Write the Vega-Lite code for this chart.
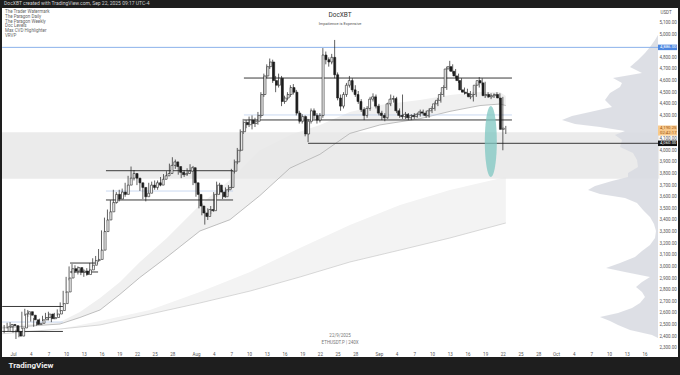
{
"$schema": "https://vega.github.io/schema/vega-lite/v6.json",
"width": 676, "height": 349, "autosize": "none",
"padding": {"left": 2, "right": 2, "top": 8, "bottom": 18},
"background": "#1e1e1e",
"title": {"text": "DocXBT created with TradingView.com, Sep 22, 2025 09:17 UTC-4", "anchor": "start", "frame": "group", "fontSize": 5, "fontWeight": "normal", "color": "#cfcfcf", "offset": 0, "baseline": "middle", "dx": 2, "font": "Roboto"},
"config": {"view": {"fill": "#ffffff", "stroke": null}, "font": "Roboto",
 "axis": {"grid": false, "ticks": false, "domain": false, "labelFontSize": 4.5, "labelColor": "#555555", "labelOverlap": false, "labelFlush": false, "labelPadding": 2}},
"datasets": {
"zone": [{"lo": 3755, "hi": 4155}],
"candles": [
{"t":"2025-06-29T12:00Z","o":2440,"h":2495,"l":2425,"c":2480},
{"t":"2025-06-30T00:00Z","o":2480,"h":2515,"l":2465,"c":2500},
{"t":"2025-06-30T12:00Z","o":2500,"h":2520,"l":2470,"c":2490},
{"t":"2025-07-01T00:00Z","o":2490,"h":2500,"l":2430,"c":2440},
{"t":"2025-07-01T12:00Z","o":2440,"h":2455,"l":2375,"c":2400},
{"t":"2025-07-02T00:00Z","o":2400,"h":2485,"l":2390,"c":2470},
{"t":"2025-07-02T12:00Z","o":2470,"h":2610,"l":2460,"c":2590},
{"t":"2025-07-03T00:00Z","o":2590,"h":2635,"l":2575,"c":2610},
{"t":"2025-07-03T12:00Z","o":2610,"h":2625,"l":2565,"c":2580},
{"t":"2025-07-04T00:00Z","o":2580,"h":2595,"l":2525,"c":2540},
{"t":"2025-07-04T12:00Z","o":2540,"h":2555,"l":2480,"c":2500},
{"t":"2025-07-05T00:00Z","o":2500,"h":2525,"l":2490,"c":2510},
{"t":"2025-07-05T12:00Z","o":2510,"h":2550,"l":2500,"c":2540},
{"t":"2025-07-06T00:00Z","o":2540,"h":2575,"l":2530,"c":2560},
{"t":"2025-07-06T12:00Z","o":2560,"h":2600,"l":2545,"c":2590},
{"t":"2025-07-07T00:00Z","o":2590,"h":2610,"l":2535,"c":2550},
{"t":"2025-07-07T12:00Z","o":2550,"h":2575,"l":2520,"c":2560},
{"t":"2025-07-08T00:00Z","o":2560,"h":2600,"l":2545,"c":2590},
{"t":"2025-07-08T12:00Z","o":2590,"h":2630,"l":2575,"c":2620},
{"t":"2025-07-09T00:00Z","o":2620,"h":2690,"l":2610,"c":2680},
{"t":"2025-07-09T12:00Z","o":2680,"h":2790,"l":2670,"c":2780},
{"t":"2025-07-10T00:00Z","o":2780,"h":2910,"l":2770,"c":2900},
{"t":"2025-07-10T12:00Z","o":2900,"h":3000,"l":2880,"c":2980},
{"t":"2025-07-11T00:00Z","o":2980,"h":3020,"l":2940,"c":2960},
{"t":"2025-07-11T12:00Z","o":2960,"h":3010,"l":2945,"c":2990},
{"t":"2025-07-12T00:00Z","o":2990,"h":3000,"l":2930,"c":2950},
{"t":"2025-07-12T12:00Z","o":2950,"h":2980,"l":2925,"c":2960},
{"t":"2025-07-13T00:00Z","o":2960,"h":2975,"l":2910,"c":2930},
{"t":"2025-07-13T12:00Z","o":2930,"h":2985,"l":2920,"c":2970},
{"t":"2025-07-14T00:00Z","o":2970,"h":3030,"l":2955,"c":3010},
{"t":"2025-07-14T12:00Z","o":3010,"h":3070,"l":2990,"c":3050},
{"t":"2025-07-15T00:00Z","o":3050,"h":3090,"l":3020,"c":3060},
{"t":"2025-07-15T12:00Z","o":3060,"h":3150,"l":3040,"c":3140},
{"t":"2025-07-16T00:00Z","o":3140,"h":3310,"l":3130,"c":3300},
{"t":"2025-07-16T12:00Z","o":3300,"h":3420,"l":3280,"c":3400},
{"t":"2025-07-17T00:00Z","o":3400,"h":3490,"l":3380,"c":3470},
{"t":"2025-07-17T12:00Z","o":3470,"h":3570,"l":3450,"c":3550},
{"t":"2025-07-18T00:00Z","o":3550,"h":3660,"l":3530,"c":3620},
{"t":"2025-07-18T12:00Z","o":3620,"h":3640,"l":3540,"c":3580},
{"t":"2025-07-19T00:00Z","o":3580,"h":3660,"l":3560,"c":3640},
{"t":"2025-07-19T12:00Z","o":3640,"h":3670,"l":3590,"c":3620},
{"t":"2025-07-20T00:00Z","o":3620,"h":3720,"l":3600,"c":3700},
{"t":"2025-07-20T12:00Z","o":3700,"h":3780,"l":3680,"c":3760},
{"t":"2025-07-21T00:00Z","o":3760,"h":3860,"l":3740,"c":3800},
{"t":"2025-07-21T12:00Z","o":3800,"h":3830,"l":3740,"c":3760},
{"t":"2025-07-22T00:00Z","o":3760,"h":3780,"l":3700,"c":3720},
{"t":"2025-07-22T12:00Z","o":3720,"h":3750,"l":3650,"c":3680},
{"t":"2025-07-23T00:00Z","o":3680,"h":3700,"l":3580,"c":3600},
{"t":"2025-07-23T12:00Z","o":3600,"h":3650,"l":3560,"c":3630},
{"t":"2025-07-24T00:00Z","o":3630,"h":3720,"l":3610,"c":3700},
{"t":"2025-07-24T12:00Z","o":3700,"h":3730,"l":3650,"c":3680},
{"t":"2025-07-25T00:00Z","o":3680,"h":3740,"l":3660,"c":3720},
{"t":"2025-07-25T12:00Z","o":3720,"h":3740,"l":3660,"c":3700},
{"t":"2025-07-26T00:00Z","o":3700,"h":3770,"l":3690,"c":3750},
{"t":"2025-07-26T12:00Z","o":3750,"h":3795,"l":3735,"c":3780},
{"t":"2025-07-27T00:00Z","o":3780,"h":3820,"l":3765,"c":3800},
{"t":"2025-07-27T12:00Z","o":3800,"h":3885,"l":3790,"c":3870},
{"t":"2025-07-28T00:00Z","o":3870,"h":3940,"l":3850,"c":3900},
{"t":"2025-07-28T12:00Z","o":3900,"h":3920,"l":3840,"c":3860},
{"t":"2025-07-29T00:00Z","o":3860,"h":3880,"l":3790,"c":3810},
{"t":"2025-07-29T12:00Z","o":3810,"h":3840,"l":3760,"c":3790},
{"t":"2025-07-30T00:00Z","o":3790,"h":3830,"l":3770,"c":3800},
{"t":"2025-07-30T12:00Z","o":3800,"h":3845,"l":3780,"c":3820},
{"t":"2025-07-31T00:00Z","o":3820,"h":3880,"l":3800,"c":3850},
{"t":"2025-07-31T12:00Z","o":3850,"h":3865,"l":3700,"c":3720},
{"t":"2025-08-01T00:00Z","o":3720,"h":3740,"l":3600,"c":3620},
{"t":"2025-08-01T12:00Z","o":3620,"h":3640,"l":3500,"c":3520},
{"t":"2025-08-02T00:00Z","o":3520,"h":3540,"l":3440,"c":3460},
{"t":"2025-08-02T12:00Z","o":3460,"h":3480,"l":3360,"c":3430},
{"t":"2025-08-03T00:00Z","o":3430,"h":3500,"l":3400,"c":3490},
{"t":"2025-08-03T12:00Z","o":3490,"h":3520,"l":3450,"c":3480},
{"t":"2025-08-04T00:00Z","o":3480,"h":3640,"l":3470,"c":3620},
{"t":"2025-08-04T12:00Z","o":3620,"h":3730,"l":3600,"c":3700},
{"t":"2025-08-05T00:00Z","o":3700,"h":3720,"l":3620,"c":3640},
{"t":"2025-08-05T12:00Z","o":3640,"h":3660,"l":3580,"c":3600},
{"t":"2025-08-06T00:00Z","o":3600,"h":3680,"l":3590,"c":3660},
{"t":"2025-08-06T12:00Z","o":3660,"h":3700,"l":3640,"c":3680},
{"t":"2025-08-07T00:00Z","o":3680,"h":3840,"l":3670,"c":3820},
{"t":"2025-08-07T12:00Z","o":3820,"h":3920,"l":3800,"c":3900},
{"t":"2025-08-08T00:00Z","o":3900,"h":4020,"l":3880,"c":4000},
{"t":"2025-08-08T12:00Z","o":4000,"h":4180,"l":3990,"c":4160},
{"t":"2025-08-09T00:00Z","o":4160,"h":4270,"l":4140,"c":4240},
{"t":"2025-08-09T12:00Z","o":4240,"h":4260,"l":4190,"c":4220},
{"t":"2025-08-10T00:00Z","o":4220,"h":4290,"l":4200,"c":4260},
{"t":"2025-08-10T12:00Z","o":4260,"h":4300,"l":4180,"c":4230},
{"t":"2025-08-11T00:00Z","o":4230,"h":4280,"l":4200,"c":4250},
{"t":"2025-08-11T12:00Z","o":4250,"h":4330,"l":4220,"c":4300},
{"t":"2025-08-12T00:00Z","o":4300,"h":4500,"l":4280,"c":4480},
{"t":"2025-08-12T12:00Z","o":4480,"h":4660,"l":4460,"c":4640},
{"t":"2025-08-13T00:00Z","o":4640,"h":4740,"l":4620,"c":4720},
{"t":"2025-08-13T12:00Z","o":4720,"h":4790,"l":4700,"c":4760},
{"t":"2025-08-14T00:00Z","o":4760,"h":4780,"l":4580,"c":4600},
{"t":"2025-08-14T12:00Z","o":4600,"h":4640,"l":4500,"c":4560},
{"t":"2025-08-15T00:00Z","o":4560,"h":4660,"l":4540,"c":4620},
{"t":"2025-08-15T12:00Z","o":4620,"h":4640,"l":4380,"c":4420},
{"t":"2025-08-16T00:00Z","o":4420,"h":4470,"l":4400,"c":4450},
{"t":"2025-08-16T12:00Z","o":4450,"h":4500,"l":4430,"c":4480},
{"t":"2025-08-17T00:00Z","o":4480,"h":4560,"l":4460,"c":4540},
{"t":"2025-08-17T12:00Z","o":4540,"h":4570,"l":4480,"c":4500},
{"t":"2025-08-18T00:00Z","o":4500,"h":4520,"l":4300,"c":4320},
{"t":"2025-08-18T12:00Z","o":4320,"h":4340,"l":4230,"c":4250},
{"t":"2025-08-19T00:00Z","o":4250,"h":4310,"l":4230,"c":4290},
{"t":"2025-08-19T12:00Z","o":4290,"h":4300,"l":4120,"c":4140},
{"t":"2025-08-20T00:00Z","o":4140,"h":4270,"l":4070,"c":4250},
{"t":"2025-08-20T12:00Z","o":4250,"h":4360,"l":4230,"c":4340},
{"t":"2025-08-21T00:00Z","o":4340,"h":4360,"l":4270,"c":4300},
{"t":"2025-08-21T12:00Z","o":4300,"h":4320,"l":4230,"c":4260},
{"t":"2025-08-22T00:00Z","o":4260,"h":4320,"l":4240,"c":4300},
{"t":"2025-08-22T12:00Z","o":4300,"h":4880,"l":4280,"c":4820},
{"t":"2025-08-23T00:00Z","o":4820,"h":4850,"l":4740,"c":4780},
{"t":"2025-08-23T12:00Z","o":4780,"h":4800,"l":4720,"c":4760},
{"t":"2025-08-24T00:00Z","o":4760,"h":4830,"l":4740,"c":4800},
{"t":"2025-08-24T12:00Z","o":4800,"h":4950,"l":4620,"c":4650},
{"t":"2025-08-25T00:00Z","o":4650,"h":4670,"l":4430,"c":4450},
{"t":"2025-08-25T12:00Z","o":4450,"h":4480,"l":4340,"c":4380},
{"t":"2025-08-26T00:00Z","o":4380,"h":4500,"l":4360,"c":4480},
{"t":"2025-08-26T12:00Z","o":4480,"h":4580,"l":4460,"c":4560},
{"t":"2025-08-27T00:00Z","o":4560,"h":4640,"l":4540,"c":4600},
{"t":"2025-08-27T12:00Z","o":4600,"h":4620,"l":4500,"c":4520},
{"t":"2025-08-28T00:00Z","o":4520,"h":4560,"l":4460,"c":4480},
{"t":"2025-08-28T12:00Z","o":4480,"h":4510,"l":4400,"c":4420},
{"t":"2025-08-29T00:00Z","o":4420,"h":4440,"l":4330,"c":4350},
{"t":"2025-08-29T12:00Z","o":4350,"h":4370,"l":4260,"c":4300},
{"t":"2025-08-30T00:00Z","o":4300,"h":4380,"l":4280,"c":4360},
{"t":"2025-08-30T12:00Z","o":4360,"h":4460,"l":4340,"c":4440},
{"t":"2025-08-31T00:00Z","o":4440,"h":4490,"l":4420,"c":4460},
{"t":"2025-08-31T12:00Z","o":4460,"h":4480,"l":4360,"c":4380},
{"t":"2025-09-01T00:00Z","o":4380,"h":4400,"l":4300,"c":4320},
{"t":"2025-09-01T12:00Z","o":4320,"h":4340,"l":4260,"c":4300},
{"t":"2025-09-02T00:00Z","o":4300,"h":4320,"l":4250,"c":4280},
{"t":"2025-09-02T12:00Z","o":4280,"h":4410,"l":4270,"c":4400},
{"t":"2025-09-03T00:00Z","o":4400,"h":4480,"l":4380,"c":4440},
{"t":"2025-09-03T12:00Z","o":4440,"h":4470,"l":4410,"c":4445},
{"t":"2025-09-04T00:00Z","o":4445,"h":4460,"l":4320,"c":4340},
{"t":"2025-09-04T12:00Z","o":4340,"h":4360,"l":4280,"c":4300},
{"t":"2025-09-05T00:00Z","o":4300,"h":4480,"l":4270,"c":4290},
{"t":"2025-09-05T12:00Z","o":4290,"h":4330,"l":4270,"c":4310},
{"t":"2025-09-06T00:00Z","o":4310,"h":4320,"l":4260,"c":4280},
{"t":"2025-09-06T12:00Z","o":4280,"h":4310,"l":4260,"c":4300},
{"t":"2025-09-07T00:00Z","o":4300,"h":4320,"l":4270,"c":4290},
{"t":"2025-09-07T12:00Z","o":4290,"h":4320,"l":4280,"c":4310},
{"t":"2025-09-08T00:00Z","o":4310,"h":4350,"l":4290,"c":4330},
{"t":"2025-09-08T12:00Z","o":4330,"h":4350,"l":4300,"c":4320},
{"t":"2025-09-09T00:00Z","o":4320,"h":4340,"l":4280,"c":4300},
{"t":"2025-09-09T12:00Z","o":4300,"h":4360,"l":4280,"c":4340},
{"t":"2025-09-10T00:00Z","o":4340,"h":4380,"l":4320,"c":4360},
{"t":"2025-09-10T12:00Z","o":4360,"h":4420,"l":4340,"c":4400},
{"t":"2025-09-11T00:00Z","o":4400,"h":4450,"l":4380,"c":4430},
{"t":"2025-09-11T12:00Z","o":4430,"h":4500,"l":4410,"c":4480},
{"t":"2025-09-12T00:00Z","o":4480,"h":4560,"l":4460,"c":4540},
{"t":"2025-09-12T12:00Z","o":4540,"h":4720,"l":4520,"c":4700},
{"t":"2025-09-13T00:00Z","o":4700,"h":4770,"l":4680,"c":4720},
{"t":"2025-09-13T12:00Z","o":4720,"h":4740,"l":4660,"c":4680},
{"t":"2025-09-14T00:00Z","o":4680,"h":4700,"l":4620,"c":4640},
{"t":"2025-09-14T12:00Z","o":4640,"h":4660,"l":4580,"c":4600},
{"t":"2025-09-15T00:00Z","o":4600,"h":4620,"l":4500,"c":4520},
{"t":"2025-09-15T12:00Z","o":4520,"h":4540,"l":4480,"c":4500},
{"t":"2025-09-16T00:00Z","o":4500,"h":4530,"l":4470,"c":4490},
{"t":"2025-09-16T12:00Z","o":4490,"h":4510,"l":4440,"c":4460},
{"t":"2025-09-17T00:00Z","o":4460,"h":4500,"l":4420,"c":4480},
{"t":"2025-09-17T12:00Z","o":4480,"h":4580,"l":4460,"c":4560},
{"t":"2025-09-18T00:00Z","o":4560,"h":4630,"l":4540,"c":4600},
{"t":"2025-09-18T12:00Z","o":4600,"h":4620,"l":4560,"c":4580},
{"t":"2025-09-19T00:00Z","o":4580,"h":4590,"l":4450,"c":4470},
{"t":"2025-09-19T12:00Z","o":4470,"h":4500,"l":4450,"c":4480},
{"t":"2025-09-20T00:00Z","o":4480,"h":4490,"l":4440,"c":4460},
{"t":"2025-09-20T12:00Z","o":4460,"h":4490,"l":4450,"c":4470},
{"t":"2025-09-21T00:00Z","o":4470,"h":4500,"l":4460,"c":4480},
{"t":"2025-09-21T12:00Z","o":4480,"h":4490,"l":4430,"c":4450},
{"t":"2025-09-22T00:00Z","o":4450,"h":4460,"l":4000,"c":4180},
{"t":"2025-09-22T12:00Z","o":4180,"h":4210,"l":4140,"c":4190}
],
"ribbonA": [
{"t":"2025-06-29T04:00Z","hi":2487,"lo":2470},
{"t":"2025-07-08T23:00Z","hi":2522,"lo":2504},
{"t":"2025-07-12T08:00Z","hi":2608,"lo":2560},
{"t":"2025-07-15T18:00Z","hi":2728,"lo":2625},
{"t":"2025-07-19T03:00Z","hi":2866,"lo":2760},
{"t":"2025-07-22T12:00Z","hi":3038,"lo":2905},
{"t":"2025-07-27T02:00Z","hi":3245,"lo":3081},
{"t":"2025-08-01T16:00Z","hi":3529,"lo":3305},
{"t":"2025-08-06T18:00Z","hi":3744,"lo":3402},
{"t":"2025-08-11T20:00Z","hi":4002,"lo":3610},
{"t":"2025-08-16T22:00Z","hi":4131,"lo":3846},
{"t":"2025-08-22T00:00Z","hi":4218,"lo":3965},
{"t":"2025-08-27T02:00Z","hi":4330,"lo":4145},
{"t":"2025-09-01T04:00Z","hi":4390,"lo":4218},
{"t":"2025-09-07T23:00Z","hi":4433,"lo":4272},
{"t":"2025-09-13T01:00Z","hi":4476,"lo":4335},
{"t":"2025-09-18T03:00Z","hi":4502,"lo":4385},
{"t":"2025-09-21T12:00Z","hi":4502,"lo":4398},
{"t":"2025-09-22T12:00Z","hi":4467,"lo":4385}
],
"ribbonB": [
{"t":"2025-06-29T04:00Z","hi":2420,"lo":2420},
{"t":"2025-07-08T23:00Z","hi":2461,"lo":2461},
{"t":"2025-07-15T18:00Z","hi":2530,"lo":2496},
{"t":"2025-07-24T05:00Z","hi":2625,"lo":2590},
{"t":"2025-08-01T16:00Z","hi":2780,"lo":2685},
{"t":"2025-08-10T04:00Z","hi":2952,"lo":2788},
{"t":"2025-08-18T15:00Z","hi":3159,"lo":2909},
{"t":"2025-08-27T02:00Z","hi":3357,"lo":3038},
{"t":"2025-09-04T14:00Z","hi":3529,"lo":3141},
{"t":"2025-09-13T01:00Z","hi":3658,"lo":3245},
{"t":"2025-09-22T12:00Z","hi":3770,"lo":3374}
],
"profile": [
{"p":2384,"v":0},{"p":2410,"v":6},{"p":2453,"v":28},{"p":2496,"v":40},{"p":2530,"v":48},{"p":2564,"v":58},{"p":2599,"v":40},{"p":2642,"v":26},{"p":2685,"v":18},{"p":2737,"v":13},{"p":2780,"v":16},{"p":2823,"v":22},{"p":2866,"v":16},{"p":2909,"v":8},{"p":2952,"v":33},{"p":2986,"v":52},{"p":3029,"v":38},{"p":3081,"v":23},{"p":3133,"v":16},{"p":3184,"v":8},{"p":3245,"v":3},{"p":3305,"v":2},{"p":3365,"v":4},{"p":3425,"v":8},{"p":3486,"v":15},{"p":3546,"v":21},{"p":3589,"v":33},{"p":3623,"v":58},{"p":3658,"v":70},{"p":3692,"v":63},{"p":3735,"v":46},{"p":3770,"v":30},{"p":3804,"v":30},{"p":3856,"v":20},{"p":3916,"v":21},{"p":3976,"v":25},{"p":4028,"v":38},{"p":4088,"v":36},{"p":4131,"v":43},{"p":4166,"v":33},{"p":4200,"v":58},{"p":4226,"v":83},{"p":4261,"v":96},{"p":4295,"v":86},{"p":4329,"v":68},{"p":4372,"v":46},{"p":4433,"v":53},{"p":4493,"v":48},{"p":4545,"v":38},{"p":4579,"v":36},{"p":4622,"v":45},{"p":4665,"v":16},{"p":4717,"v":28},{"p":4777,"v":20},{"p":4837,"v":13},{"p":4889,"v":8},{"p":4949,"v":3},{"p":4992,"v":0}
],
"levels": [
{"p":2655,"from":"2025-06-29T04:00Z","to":"2025-07-09T11:00Z"},
{"p":2440,"from":"2025-06-29T04:00Z","to":"2025-07-09T11:00Z"},
{"p":3029,"from":"2025-07-10T16:00Z","to":"2025-07-15T10:00Z"},
{"p":2952,"from":"2025-07-10T16:00Z","to":"2025-07-15T10:00Z"},
{"p":3824,"from":"2025-07-16T18:00Z","to":"2025-08-07T07:00Z"},
{"p":3572,"from":"2025-07-16T18:00Z","to":"2025-08-07T07:00Z"},
{"p":4622,"from":"2025-08-09T03:00Z","to":"2025-09-23T13:00Z"},
{"p":4261,"from":"2025-08-09T03:00Z","to":"2025-09-23T13:00Z"},
{"p":4060,"from":"2025-08-20T00:00Z","to":"2025-10-18T12:00Z"}
],
"bluelevels": [
{"p":2521,"from":"2025-06-29T04:00Z","to":"2025-07-09T11:00Z"},
{"p":3649,"from":"2025-07-16T18:00Z","to":"2025-08-07T07:00Z"},
{"p":4304,"from":"2025-08-09T03:00Z","to":"2025-09-23T13:00Z"}
],
"ath": [{"p":4886,"from":"2025-06-29T04:00Z","to":"2025-10-18T12:00Z"}]
},
"resolve": {"scale": {"x": "independent"}, "axis": {"y": "independent"}},
"layer": [
 {"data": {"name": "ribbonB"}, "mark": {"type": "area", "color": "#f3f3f3"},
  "encoding": {"x": {"field": "t", "type": "temporal", "scale": {"domain": [1751166968000, 1761063224000], "nice": false},
    "axis": {"orient": "bottom", "offset": -8, "labelOverlap": false, "labelFlush": false,
     "values": [1751328000000,1751587200000,1751846400000,1752105600000,1752364800000,1752624000000,1752883200000,1753142400000,1753401600000,1753660800000,1754006400000,1754265600000,1754524800000,1754784000000,1755043200000,1755302400000,1755561600000,1755820800000,1756080000000,1756339200000,1756684800000,1756944000000,1757203200000,1757462400000,1757721600000,1757980800000,1758240000000,1758499200000,1758758400000,1759017600000,1759276800000,1759536000000,1759795200000,1760054400000,1760313600000,1760572800000],
     "labelExpr": "utcdate(datum.value) == 1 ? utcFormat(datum.value, '%b') : utcFormat(datum.value, '%-d')",
     "title": "TradingView", "titleFontSize": 8, "titleFontWeight": "bold", "titleColor": "#eeeeee", "titleAnchor": "start", "titleAlign": "left", "titleX": 6, "titlePadding": 6}},
   "y": {"field": "hi", "type": "quantitative", "scale": {"domain": [2220, 5225], "nice": false, "zero": false},
    "axis": {"orient": "right", "offset": -21, "format": ",.2f", "labelOverlap": false, "labelFontSize": 4.5, "labelColor": "#555555", "labelPadding": 2, "labelBaseline": "middle",
     "values": [2300,2400,2500,2600,2700,2800,2900,3000,3100,3200,3300,3400,3500,3600,3700,3800,3900,4000,4100,4300,4400,4500,4600,4700,4800,5000,5100],
     "title": "USDT", "titleAngle": 0, "titleAlign": "left", "titleBaseline": "middle", "titleX": 3, "titleY": 4, "titleFontSize": 4.5, "titleFontWeight": "normal", "titleColor": "#555555"}},
   "y2": {"field": "lo"}}},
 {"data": {"name": "ribbonA"}, "mark": {"type": "area", "color": "#f0f0f0"},
  "encoding": {"x": {"field": "t", "type": "temporal", "scale": {"domain": [1751166968000, 1761063224000], "nice": false}, "axis": null},
   "y": {"field": "hi", "type": "quantitative", "scale": {"domain": [2220, 5225], "nice": false, "zero": false}, "axis": null}, "y2": {"field": "lo"}}},
 {"data": {"name": "zone"}, "mark": {"type": "rect", "color": "#e8e8e8", "opacity": 0.85},
  "encoding": {"x": {"datum": {"year": 2025, "month": 6, "date": 29, "hours": 3, "minutes": 16, "utc": true}, "type": "temporal", "scale": {"domain": [1751166968000, 1761063224000], "nice": false}, "axis": null},
   "x2": {"datum": {"year": 2025, "month": 10, "date": 18, "hours": 12, "utc": true}},
   "y": {"field": "lo", "type": "quantitative", "scale": {"domain": [2220, 5225], "nice": false, "zero": false}, "axis": null}, "y2": {"field": "hi"}}},
 {"data": {"name": "profile"}, "mark": {"type": "area", "orient": "horizontal", "color": "#d9dce2", "opacity": 0.9},
  "encoding": {"y": {"field": "p", "type": "quantitative", "scale": {"domain": [2220, 5225], "nice": false, "zero": false}, "axis": null},
   "x": {"field": "v", "type": "quantitative", "scale": {"domain": [-20, 656], "reverse": true, "nice": false, "zero": false}, "axis": null},
   "x2": {"datum": 0}}},
 {"data": {"name": "ribbonA"}, "mark": {"type": "line", "color": "#b0b0b0", "strokeWidth": 0.8},
  "encoding": {"x": {"field": "t", "type": "temporal", "scale": {"domain": [1751166968000, 1761063224000], "nice": false}, "axis": null},
   "y": {"field": "lo", "type": "quantitative", "axis": null}}},
 {"data": {"name": "ribbonB"}, "mark": {"type": "line", "color": "#c8c8c8", "strokeWidth": 0.7},
  "encoding": {"x": {"field": "t", "type": "temporal", "scale": {"domain": [1751166968000, 1761063224000], "nice": false}, "axis": null},
   "y": {"field": "lo", "type": "quantitative", "axis": null}}},
 {"data": {"name": "bluelevels"}, "mark": {"type": "rule", "color": "#bdd1ee", "strokeWidth": 0.8},
  "encoding": {"x": {"field": "from", "type": "temporal", "scale": {"domain": [1751166968000, 1761063224000], "nice": false}, "axis": null}, "x2": {"field": "to"}, "y": {"field": "p", "type": "quantitative", "axis": null}}},
 {"data": {"name": "ath"}, "mark": {"type": "rule", "color": "#8cb2ea", "strokeWidth": 1},
  "encoding": {"x": {"field": "from", "type": "temporal", "scale": {"domain": [1751166968000, 1761063224000], "nice": false}, "axis": null}, "x2": {"field": "to"}, "y": {"field": "p", "type": "quantitative", "axis": null}}},
 {"data": {"name": "levels"}, "mark": {"type": "rule", "color": "#3a3a3a", "strokeWidth": 1},
  "encoding": {"x": {"field": "from", "type": "temporal", "scale": {"domain": [1751166968000, 1761063224000], "nice": false}, "axis": null}, "x2": {"field": "to"}, "y": {"field": "p", "type": "quantitative", "axis": null}}},
 {"data": {"name": "candles"}, "mark": {"type": "rule", "color": "#1c1c1c", "strokeWidth": 0.7},
  "encoding": {"x": {"field": "t", "type": "temporal", "scale": {"domain": [1751166968000, 1761063224000], "nice": false}, "axis": null}, "y": {"field": "l", "type": "quantitative", "axis": null}, "y2": {"field": "h"}}},
 {"data": {"name": "candles"}, "mark": {"type": "bar", "size": 2, "stroke": "#1c1c1c", "strokeWidth": 0.6},
  "encoding": {"x": {"field": "t", "type": "temporal", "scale": {"domain": [1751166968000, 1761063224000], "nice": false}, "axis": null}, "y": {"field": "o", "type": "quantitative", "axis": null}, "y2": {"field": "c"},
   "color": {"condition": {"test": "datum.c >= datum.o", "value": "#ffffff"}, "value": "#1c1c1c"}}},
 {"data": {"values": [{}]}, "mark": {"type": "point", "filled": true, "color": "#7fc7c1", "opacity": 0.75, "size": 5041, "shape": "M0,-1A0.169,1,0,1,1,0,1A0.169,1,0,1,1,0,-1Z"},
  "encoding": {"x": {"datum": {"year": 2025, "month": 9, "date": 19, "hours": 23, "utc": true}, "type": "temporal", "scale": {"domain": [1751166968000, 1761063224000], "nice": false}, "axis": null}, "y": {"datum": 4075, "axis": null}}},
 {"data": {"values": [{}]}, "mark": {"type": "text", "text": ["The Trader Watermark", "The Paragon Daily", "The Paragon Weekly", "Doc Levels", "Max CVD Highlighter", "VRVP"], "align": "left", "baseline": "top", "fontSize": 4.5, "lineHeight": 4.8, "color": "#666666"},
  "encoding": {"x": {"datum": {"year": 2025, "month": 6, "date": 29, "hours": 15, "minutes": 20, "utc": true}, "type": "temporal", "scale": {"domain": [1751166968000, 1761063224000], "nice": false}, "axis": null}, "y": {"datum": 5216, "axis": null}}},
 {"data": {"values": [{}]}, "mark": {"type": "text", "text": "DocXBT", "align": "center", "baseline": "middle", "fontSize": 6.5, "color": "#333333"},
  "encoding": {"x": {"datum": {"year": 2025, "month": 8, "date": 25, "hours": 10, "utc": true}, "type": "temporal", "scale": {"domain": [1751166968000, 1761063224000], "nice": false}, "axis": null}, "y": {"datum": 5165, "axis": null}}},
 {"data": {"values": [{}]}, "mark": {"type": "text", "text": "Impatience is Expensive", "align": "center", "baseline": "middle", "fontSize": 4, "color": "#555555"},
  "encoding": {"x": {"datum": {"year": 2025, "month": 8, "date": 25, "hours": 10, "utc": true}, "type": "temporal", "scale": {"domain": [1751166968000, 1761063224000], "nice": false}, "axis": null}, "y": {"datum": 5087, "axis": null}}},
 {"data": {"values": [{}]}, "mark": {"type": "text", "text": "22/9/2025", "align": "center", "baseline": "middle", "fontSize": 4.5, "color": "#777777"},
  "encoding": {"x": {"datum": {"year": 2025, "month": 8, "date": 25, "hours": 10, "utc": true}, "type": "temporal", "scale": {"domain": [1751166968000, 1761063224000], "nice": false}, "axis": null}, "y": {"datum": 2401, "axis": null}}},
 {"data": {"values": [{}]}, "mark": {"type": "text", "text": "ETHUSDT.P | 240X", "align": "center", "baseline": "middle", "fontSize": 4.5, "color": "#777777"},
  "encoding": {"x": {"datum": {"year": 2025, "month": 8, "date": 25, "hours": 10, "utc": true}, "type": "temporal", "scale": {"domain": [1751166968000, 1761063224000], "nice": false}, "axis": null}, "y": {"datum": 2340, "axis": null}}},
 {"data": {"values": [{}]}, "mark": {"type": "point", "filled": true, "color": "#4c86e0", "opacity": 1, "size": 361, "shape": "M-1,-0.29H1V0.29H-1Z"},
  "encoding": {"x": {"datum": {"year": 2025, "month": 10, "date": 19, "hours": 21, "minutes": 36, "utc": true}, "type": "temporal", "scale": {"domain": [1751166968000, 1761063224000], "nice": false}, "axis": null}, "y": {"datum": 4886, "axis": null}}},
 {"data": {"values": [{}]}, "mark": {"type": "point", "filled": true, "color": "#141414", "opacity": 1, "size": 361, "shape": "M-1,-0.29H1V0.29H-1Z"},
  "encoding": {"x": {"datum": {"year": 2025, "month": 10, "date": 19, "hours": 21, "minutes": 36, "utc": true}, "type": "temporal", "scale": {"domain": [1751166968000, 1761063224000], "nice": false}, "axis": null}, "y": {"datum": 4060, "axis": null}}},
 {"data": {"values": [{}]}, "mark": {"type": "point", "filled": true, "color": "#f8c98c", "opacity": 1, "size": 361, "shape": "M-1,-0.53H1V0.53H-1Z"},
  "encoding": {"x": {"datum": {"year": 2025, "month": 10, "date": 19, "hours": 21, "minutes": 36, "utc": true}, "type": "temporal", "scale": {"domain": [1751166968000, 1761063224000], "nice": false}, "axis": null}, "y": {"datum": 4170, "axis": null}}},
 {"data": {"values": [{}]}, "mark": {"type": "text", "text": "4,886.00", "align": "left", "baseline": "middle", "fontSize": 4.3, "color": "#ffffff"},
  "encoding": {"x": {"datum": {"year": 2025, "month": 10, "date": 18, "hours": 15, "utc": true}, "type": "temporal", "scale": {"domain": [1751166968000, 1761063224000], "nice": false}, "axis": null}, "y": {"datum": 4886, "axis": null}}},
 {"data": {"values": [{}]}, "mark": {"type": "text", "text": "4,060.00", "align": "left", "baseline": "middle", "fontSize": 4.3, "color": "#ffffff"},
  "encoding": {"x": {"datum": {"year": 2025, "month": 10, "date": 18, "hours": 15, "utc": true}, "type": "temporal", "scale": {"domain": [1751166968000, 1761063224000], "nice": false}, "axis": null}, "y": {"datum": 4060, "axis": null}}},
 {"data": {"values": [{}]}, "mark": {"type": "text", "text": ["4,190.25", "02:42:17"], "align": "left", "baseline": "middle", "fontSize": 4.3, "lineHeight": 4.6, "color": "#9a5208"},
  "encoding": {"x": {"datum": {"year": 2025, "month": 10, "date": 18, "hours": 15, "utc": true}, "type": "temporal", "scale": {"domain": [1751166968000, 1761063224000], "nice": false}, "axis": null}, "y": {"datum": 4190, "axis": null}}}
]
}
